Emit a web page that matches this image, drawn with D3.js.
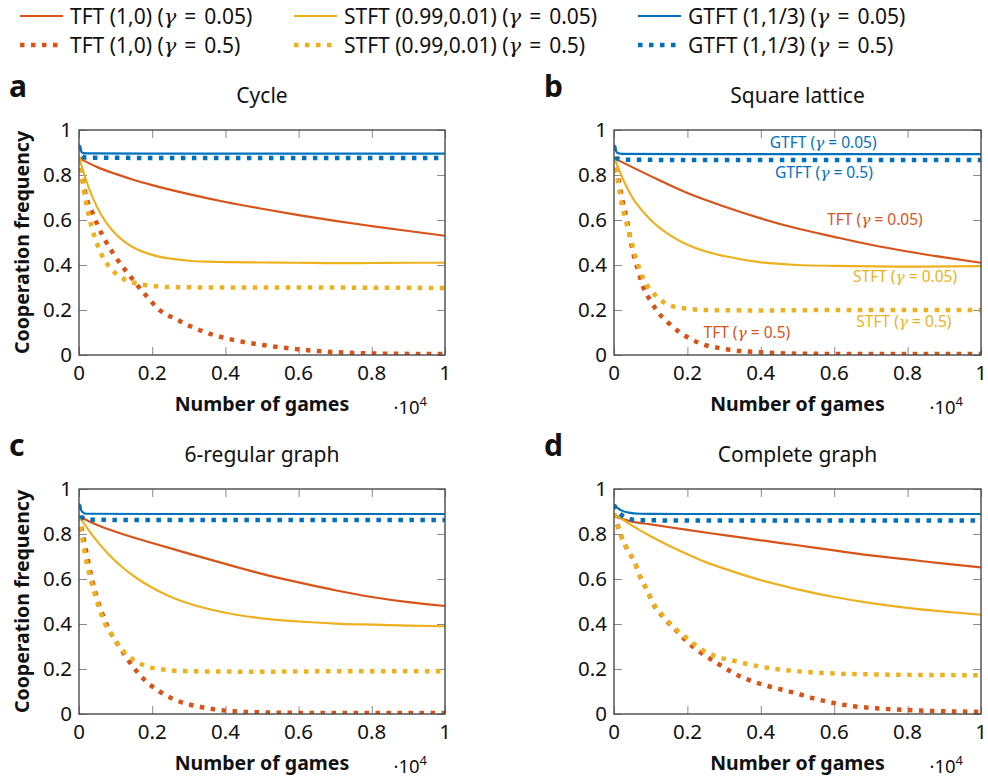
<!DOCTYPE html>
<html><head><meta charset="utf-8">
<script src="https://cdn.jsdelivr.net/npm/d3@7"></script>
<style>
body{margin:0;background:#fff}
svg{display:block}
text{font-family:"Noto Sans","Liberation Sans",sans-serif;fill:#111}
</style>
</head><body>
<svg id="chart" width="988" height="783"></svg>
<script>
// ---------- tick labels / categories ----------
const X_TICKS = [0, 0.2, 0.4, 0.6, 0.8, 1];
const Y_TICKS = [0, 0.2, 0.4, 0.6, 0.8, 1];
const X_TICK_LABELS = ["0", "0.2", "0.4", "0.6", "0.8", "1"];
const Y_TICK_LABELS = ["0", "0.2", "0.4", "0.6", "0.8", "1"];
const PANEL_LETTERS = ["a", "b", "c", "d"];
const PANEL_TITLES = ["Cycle", "Square lattice", "6-regular graph", "Complete graph"];
const STRATEGIES = ["TFT (1,0)", "STFT (0.99,0.01)", "GTFT (1,1/3)"];
const GAMMAS = ["0.05", "0.5"];
const COLORS = ["#D95319", "#EDB120", "#0072BD"];

// ---------- data: [games (x10^4), cooperation frequency] ----------
// a: Cycle
const cycle_TFT_005 = [[0,0.875],[0.05,0.835],[0.1,0.805],[0.15,0.778],[0.2,0.755],[0.3,0.715],[0.4,0.68],[0.5,0.65],[0.6,0.622],[0.7,0.596],[0.8,0.573],[0.9,0.551],[1,0.53]];
const cycle_TFT_05 = [[0,0.88],[0.02,0.70],[0.035,0.64],[0.05,0.58],[0.075,0.50],[0.1,0.435],[0.14,0.35],[0.18,0.27],[0.22,0.20],[0.27,0.155],[0.33,0.11],[0.4,0.075],[0.5,0.045],[0.6,0.025],[0.7,0.013],[0.8,0.007],[0.9,0.005],[1,0.005]];
const cycle_STFT_005 = [[0,0.88],[0.025,0.75],[0.05,0.655],[0.075,0.587],[0.1,0.538],[0.125,0.503],[0.15,0.477],[0.2,0.445],[0.25,0.428],[0.3,0.419],[0.35,0.415],[0.4,0.413],[0.5,0.411],[0.6,0.41],[0.7,0.408],[0.8,0.409],[0.9,0.41],[1,0.41]];
const cycle_STFT_05 = [[0,0.88],[0.01,0.764],[0.02,0.672],[0.03,0.598],[0.04,0.538],[0.05,0.491],[0.06,0.453],[0.08,0.398],[0.1,0.363],[0.12,0.34],[0.15,0.321],[0.2,0.307],[0.25,0.302],[0.4,0.30],[0.6,0.30],[0.8,0.299],[1,0.298]];
const cycle_GTFT_005 = [[0,0.935],[0.008,0.90],[0.02,0.896],[0.2,0.895],[0.4,0.895],[0.6,0.895],[0.8,0.895],[1,0.895]];
const cycle_GTFT_05 = [[0,0.93],[0.008,0.885],[0.02,0.877],[0.2,0.876],[0.4,0.876],[0.6,0.876],[0.8,0.876],[1,0.876]];
// b: Square lattice
const lattice_TFT_005 = [[0,0.875],[0.1,0.795],[0.2,0.72],[0.3,0.66],[0.4,0.607],[0.5,0.562],[0.6,0.525],[0.7,0.49],[0.8,0.46],[0.9,0.434],[1,0.41]];
const lattice_TFT_05 = [[0,0.88],[0.01,0.80],[0.02,0.71],[0.035,0.60],[0.05,0.47],[0.065,0.38],[0.08,0.30],[0.1,0.24],[0.12,0.19],[0.15,0.14],[0.18,0.10],[0.23,0.055],[0.3,0.027],[0.4,0.012],[0.5,0.006],[0.7,0.004],[1,0.004]];
const lattice_STFT_005 = [[0,0.88],[0.025,0.78],[0.05,0.70],[0.075,0.645],[0.1,0.60],[0.15,0.535],[0.2,0.49],[0.25,0.46],[0.3,0.44],[0.4,0.412],[0.5,0.40],[0.6,0.396],[0.8,0.393],[1,0.395]];
const lattice_STFT_05 = [[0,0.88],[0.01,0.78],[0.02,0.68],[0.03,0.61],[0.045,0.52],[0.06,0.43],[0.07,0.38],[0.09,0.31],[0.11,0.27],[0.14,0.23],[0.18,0.21],[0.25,0.20],[0.4,0.198],[0.6,0.20],[0.8,0.20],[1,0.20]];
const lattice_GTFT_005 = [[0,0.935],[0.008,0.90],[0.02,0.894],[0.2,0.893],[0.4,0.893],[0.6,0.893],[0.8,0.893],[1,0.893]];
const lattice_GTFT_05 = [[0,0.93],[0.008,0.875],[0.02,0.868],[0.2,0.867],[0.4,0.867],[0.6,0.867],[0.8,0.867],[1,0.867]];
// c: 6-regular graph
const regular_TFT_005 = [[0,0.88],[0.02,0.862],[0.05,0.84],[0.1,0.81],[0.2,0.76],[0.3,0.713],[0.4,0.667],[0.5,0.623],[0.6,0.585],[0.7,0.55],[0.8,0.52],[0.9,0.497],[1,0.48]];
const regular_TFT_05 = [[0,0.88],[0.01,0.80],[0.02,0.72],[0.035,0.60],[0.05,0.51],[0.07,0.42],[0.09,0.35],[0.11,0.30],[0.13,0.25],[0.15,0.205],[0.18,0.15],[0.22,0.10],[0.27,0.058],[0.33,0.032],[0.4,0.015],[0.5,0.007],[0.7,0.004],[1,0.004]];
const regular_STFT_005 = [[0,0.88],[0.04,0.787],[0.08,0.711],[0.12,0.65],[0.16,0.601],[0.2,0.561],[0.25,0.521],[0.3,0.491],[0.4,0.45],[0.5,0.425],[0.6,0.411],[0.7,0.402],[0.8,0.397],[0.9,0.393],[1,0.39]];
const regular_STFT_05 = [[0,0.88],[0.01,0.77],[0.02,0.68],[0.03,0.61],[0.04,0.55],[0.055,0.47],[0.07,0.405],[0.09,0.35],[0.11,0.30],[0.13,0.265],[0.16,0.23],[0.2,0.205],[0.3,0.19],[0.5,0.188],[0.7,0.19],[1,0.19]];
const regular_GTFT_005 = [[0,0.935],[0.008,0.90],[0.02,0.89],[0.2,0.889],[0.4,0.889],[0.6,0.889],[0.8,0.889],[1,0.889]];
const regular_GTFT_05 = [[0,0.93],[0.008,0.875],[0.02,0.864],[0.2,0.862],[0.4,0.862],[0.6,0.862],[0.8,0.862],[1,0.862]];
// d: Complete graph
const complete_TFT_005 = [[0,0.88],[0.05,0.855],[0.1,0.843],[0.2,0.818],[0.3,0.795],[0.4,0.772],[0.5,0.75],[0.6,0.727],[0.7,0.705],[0.8,0.687],[0.9,0.668],[1,0.652]];
const complete_TFT_05 = [[0,0.89],[0.02,0.79],[0.04,0.72],[0.055,0.68],[0.07,0.615],[0.09,0.55],[0.11,0.48],[0.135,0.43],[0.17,0.37],[0.2,0.32],[0.235,0.275],[0.285,0.222],[0.34,0.17],[0.415,0.126],[0.49,0.095],[0.55,0.067],[0.64,0.037],[0.73,0.024],[0.82,0.016],[0.9,0.012],[1,0.01]];
const complete_STFT_005 = [[0,0.89],[0.05,0.836],[0.1,0.79],[0.15,0.748],[0.2,0.71],[0.25,0.675],[0.3,0.646],[0.4,0.595],[0.5,0.554],[0.6,0.52],[0.7,0.493],[0.8,0.472],[0.9,0.455],[1,0.441]];
const complete_STFT_05 = [[0,0.89],[0.02,0.79],[0.04,0.72],[0.055,0.68],[0.07,0.615],[0.09,0.55],[0.11,0.485],[0.135,0.435],[0.17,0.375],[0.2,0.335],[0.235,0.29],[0.28,0.255],[0.33,0.235],[0.4,0.21],[0.5,0.19],[0.6,0.18],[0.7,0.176],[0.8,0.174],[0.9,0.173],[1,0.172]];
const complete_GTFT_005 = [[0,0.93],[0.01,0.915],[0.02,0.905],[0.04,0.895],[0.07,0.89],[0.2,0.889],[0.4,0.889],[0.6,0.889],[0.8,0.889],[1,0.889]];
const complete_GTFT_05 = [[0,0.93],[0.01,0.90],[0.02,0.885],[0.04,0.868],[0.06,0.862],[0.2,0.86],[0.4,0.86],[0.6,0.86],[0.8,0.86],[1,0.86]];

// series per panel: [strategy index, gamma index, data]
const PANEL_SERIES = [
  [[0,0,cycle_TFT_005],[0,1,cycle_TFT_05],[1,0,cycle_STFT_005],[1,1,cycle_STFT_05],[2,0,cycle_GTFT_005],[2,1,cycle_GTFT_05]],
  [[0,0,lattice_TFT_005],[0,1,lattice_TFT_05],[1,0,lattice_STFT_005],[1,1,lattice_STFT_05],[2,0,lattice_GTFT_005],[2,1,lattice_GTFT_05]],
  [[0,0,regular_TFT_005],[0,1,regular_TFT_05],[1,0,regular_STFT_005],[1,1,regular_STFT_05],[2,0,regular_GTFT_005],[2,1,regular_GTFT_05]],
  [[0,0,complete_TFT_005],[0,1,complete_TFT_05],[1,0,complete_STFT_005],[1,1,complete_STFT_05],[2,0,complete_GTFT_005],[2,1,complete_GTFT_05]]
];

// in-plot labels of panel b: [short name, strategy, gamma index, x, y]
const LATTICE_LABELS = [
  ["GTFT", 2, 0, 0.57, 0.942],
  ["GTFT", 2, 1, 0.572, 0.809],
  ["TFT", 0, 0, 0.711, 0.604],
  ["STFT", 1, 0, 0.793, 0.347],
  ["STFT", 1, 1, 0.790, 0.147],
  ["TFT", 0, 1, 0.362, 0.098]
];

// ---------- layout ----------
const PANELS = [
  {x0: 79,  y0: 130, w: 366, h: 225, ylab: true},
  {x0: 614, y0: 130, w: 367, h: 225, ylab: false},
  {x0: 79,  y0: 489, w: 366, h: 225, ylab: true},
  {x0: 614, y0: 489, w: 367, h: 225, ylab: false}
];
const DOT_DASH = "4.5 6.5";
const SOLID_W = 2.2, DOT_W = 4.5;

const svg = d3.select("#chart");

function gammaText(sel, g, gap) {
  sel.append("tspan").text(" (");
  sel.append("tspan").attr("font-family", "'DejaVu Serif',serif").attr("font-style", "italic").text("γ");
  sel.append("tspan").attr("dx", gap).text("=");
  sel.append("tspan").attr("dx", gap).text(g + ")");
}

// ---------- legend ----------
const LEG_COLS = [20, 294, 638];
const LEG_ROWS = [16, 45];
const leg = svg.append("g");
STRATEGIES.forEach((s, si) => {
  GAMMAS.forEach((g, gi) => {
    const x = LEG_COLS[si], y = LEG_ROWS[gi];
    leg.append("line").attr("x1", x).attr("x2", x + 43).attr("y1", y).attr("y2", y)
      .attr("stroke", COLORS[si]).attr("stroke-width", gi ? DOT_W : SOLID_W)
      .attr("stroke-dasharray", gi ? DOT_DASH : null);
    const t = leg.append("text").attr("x", x + 50).attr("y", y).attr("dy", "0.36em")
      .attr("font-size", 21).text(s);
    gammaText(t, g, 8);
  });
});

// ---------- panels ----------
PANELS.forEach((p, pi) => {
  const x = d3.scaleLinear().domain([0, 1]).range([p.x0, p.x0 + p.w]);
  const y = d3.scaleLinear().domain([0, 1]).range([p.y0 + p.h, p.y0]);
  const g = svg.append("g");
  const clipId = "clip" + pi;
  g.append("clipPath").attr("id", clipId).append("rect")
    .attr("x", p.x0).attr("y", p.y0 - 2).attr("width", p.w).attr("height", p.h + 2);

  // inward ticks on all four sides via d3 axes
  const tickStyle = a => { a.selectAll("path").remove(); a.selectAll("line").attr("stroke", "#8a8a8a"); a.selectAll("text").remove(); };
  g.append("g").attr("transform", `translate(0,${p.y0 + p.h})`).call(d3.axisTop(x).tickValues(X_TICKS).tickSize(8)).call(tickStyle);
  g.append("g").attr("transform", `translate(0,${p.y0})`).call(d3.axisBottom(x).tickValues(X_TICKS).tickSize(8)).call(tickStyle);
  g.append("g").attr("transform", `translate(${p.x0},0)`).call(d3.axisRight(y).tickValues(Y_TICKS).tickSize(8)).call(tickStyle);
  g.append("g").attr("transform", `translate(${p.x0 + p.w},0)`).call(d3.axisLeft(y).tickValues(Y_TICKS).tickSize(8)).call(tickStyle);

  // tick labels
  X_TICKS.forEach((v, i) => {
    g.append("text").attr("x", x(v)).attr("y", p.y0 + p.h + 25).attr("text-anchor", "middle")
      .attr("font-size", 20.5).text(X_TICK_LABELS[i]);
  });
  Y_TICKS.forEach((v, i) => {
    g.append("text").attr("x", p.x0 - 7).attr("y", y(v)).attr("dy", "0.35em").attr("text-anchor", "end")
      .attr("font-size", 20.5).text(Y_TICK_LABELS[i]);
  });

  // lines
  const line = d3.line().x(d => x(d[0])).y(d => y(d[1])).curve(d3.curveMonotoneX);
  const lg = g.append("g").attr("clip-path", `url(#${clipId})`);
  PANEL_SERIES[pi].forEach(([si, gi, data]) => {
    lg.append("path").attr("d", line(data)).attr("fill", "none")
      .attr("stroke", COLORS[si]).attr("stroke-width", gi ? DOT_W : SOLID_W)
      .attr("stroke-dasharray", gi ? DOT_DASH : null).attr("stroke-linejoin", "round");
  });

  // frame
  g.append("rect").attr("x", p.x0).attr("y", p.y0).attr("width", p.w).attr("height", p.h)
    .attr("fill", "none").attr("stroke", "#4a4a4a").attr("stroke-width", 1.4);

  // titles, letters
  g.append("text").attr("x", p.x0 + p.w / 2).attr("y", p.y0 - 27).attr("text-anchor", "middle")
    .attr("font-size", 21).text(PANEL_TITLES[pi]);
  g.append("text").attr("x", p.x0 - 70).attr("y", p.y0 - 33)
    .attr("font-family", "'DejaVu Sans',sans-serif").attr("font-weight", "bold").attr("font-size", 30)
    .text(PANEL_LETTERS[pi]);

  // axis labels
  g.append("text").attr("x", p.x0 + p.w / 2).attr("y", p.y0 + p.h + 56).attr("text-anchor", "middle")
    .attr("font-family", "'DejaVu Sans',sans-serif").attr("font-weight", "bold").attr("font-size", 19.5)
    .text("Number of games");
  const sc = g.append("text").attr("x", p.x0 + p.w - 18).attr("y", p.y0 + p.h + 59).attr("text-anchor", "end")
    .attr("font-size", 18.5);
  sc.append("tspan").text("·10");
  sc.append("tspan").attr("font-size", 13).attr("dy", -8).text("4");
  if (p.ylab) {
    g.append("text").attr("transform", `translate(${p.x0 - 50},${p.y0 + p.h / 2}) rotate(-90)`)
      .attr("text-anchor", "middle")
      .attr("font-family", "'DejaVu Sans',sans-serif").attr("font-weight", "bold").attr("font-size", 19.5)
      .text("Cooperation frequency");
  }

  // in-plot labels (panel b)
  if (pi === 1) {
    LATTICE_LABELS.forEach(([nm, si, gi, lx, ly]) => {
      const t = g.append("text").attr("x", x(lx)).attr("y", y(ly)).attr("dy", "0.35em")
        .attr("text-anchor", "middle").attr("font-size", 15.5).style("fill", COLORS[si]).text(nm);
      gammaText(t, GAMMAS[gi], 4);
      t.selectAll("tspan").style("fill", COLORS[si]);
    });
  }
});
</script>
</body></html>
